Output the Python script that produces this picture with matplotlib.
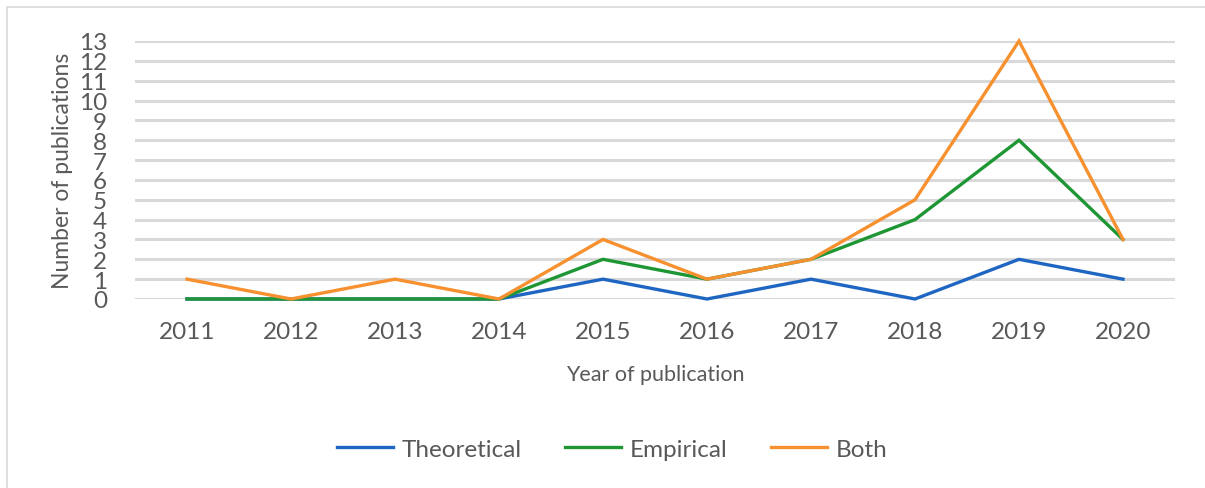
import matplotlib.pyplot as plt
from matplotlib.patches import Rectangle

years = ['2011', '2012', '2013', '2014', '2015', '2016', '2017', '2018', '2019', '2020']
theoretical = [0, 0, 0, 0, 1, 0, 1, 0, 2, 1]
empirical = [0, 0, 0, 0, 2, 1, 2, 4, 8, 3]
both = [1, 0, 1, 0, 3, 1, 2, 5, 13, 3]

plt.rcParams['font.family'] = ['Lato', 'DejaVu Sans']
text_color = '#595959'

fig = plt.figure(figsize=(12.05, 4.89), dpi=100)
ax = fig.add_axes([135 / 1205, 1 - 300 / 489, 1040 / 1205, 258 / 489])

x = range(len(years))
ax.plot(x, theoretical, color='#1f66c2', lw=2.4, label='Theoretical', solid_joinstyle='miter')
ax.plot(x, empirical, color='#1e9634', lw=2.4, label='Empirical', solid_joinstyle='miter')
ax.plot(x, both, color='#f7902f', lw=2.4, label='Both', solid_joinstyle='miter')

ax.set_xlim(-0.5, len(years) - 0.5)
ax.set_ylim(0, 13)
ax.set_xticks(list(x))
ax.set_xticklabels(years)
ax.set_yticks(range(14))
ax.yaxis.grid(True, color='#d9d9d9', lw=2.2)
ax.set_axisbelow(True)
for s in ax.spines.values():
    s.set_visible(False)
ax.tick_params(axis='both', length=0, labelsize=17.5, colors=text_color)
ax.tick_params(axis='x', pad=16)
ax.tick_params(axis='y', pad=20)
for ln in ax.lines:
    ln.set_clip_on(False)

ax.set_xlabel('Year of publication', fontsize=15.5, color=text_color, labelpad=16)
ax.set_ylabel('Number of publications', fontsize=16.5, color=text_color, labelpad=4)

fig.legend(loc='center', bbox_to_anchor=(612 / 1205, 1 - 450 / 489), ncol=3, frameon=False,
           fontsize=17.5, labelcolor=text_color, handlelength=2.3, handletextpad=0.35,
           columnspacing=1.8)

fig.patches.append(Rectangle((7 / 1205, -0.1), 1.2, 1 - 8 / 489 + 0.1, transform=fig.transFigure,
                             fill=False, edgecolor='#d9d9d9', lw=1.2))

fig.savefig('out.png', dpi=100)
